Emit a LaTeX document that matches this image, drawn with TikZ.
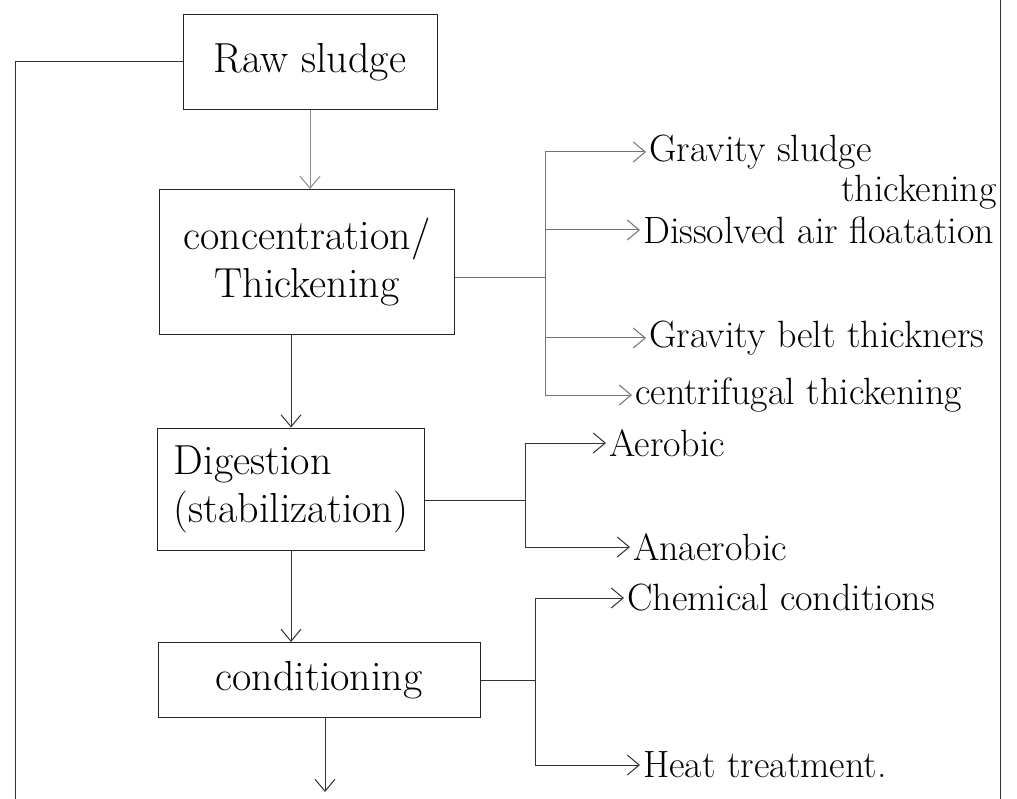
\documentclass[tikz,border=0pt]{standalone}
\usepackage{fontspec}
\usepackage{tikz}
\usetikzlibrary{arrows.meta, positioning}

\begin{document}
\begin{tikzpicture}[x=1pt, y=-1pt,
    box/.style={draw, line width=1pt, black!85, text=black, inner sep=6pt, font=\fontsize{42}{48}\selectfont},
    lbl/.style={anchor=west, inner sep=3pt, text=black, font=\fontsize{38}{44}\selectfont},
    wire/.style={line width=1pt, black!80},
    flow/.style={wire, -{Straight Barb[length=12pt, width=20pt]}}]
    \useasboundingbox (0,0) rectangle (1017,799);

    % Main boxes
    \node[box, minimum width=254, minimum height=95] (raw) at (310,62) {Raw sludge};
    \node[box, minimum width=295, minimum height=145, align=center] (conc) at (307,262) {concentration/\\Thickening};
    \node[box, minimum width=267, minimum height=122, align=left] (dig) at (291,489) {Digestion\\(stabilization)};
    \node[box, minimum width=322, minimum height=75] (cond) at (319,680) {conditioning};

    \draw[flow, black!45] (raw.south) -- (raw.south |- conc.north);
    \draw[flow] (conc.south -| dig) -- (dig.north);
    \draw[flow] (dig.south) -- (dig.south |- cond.north);
    \coordinate (out) at (325,792);
    \draw[flow] (cond.south -| out) -- (out);

    % Side lines
    \coordinate (loop) at (15,799);
    \draw[wire] (raw.west) -| (loop);
    \coordinate (rtop) at (1000,0);
    \coordinate (rbot) at (1000,799);
    \draw[wire] (rtop) -- (rbot);

    % Thickening methods
    \node[lbl] (grav) at (646,152) {Gravity sludge};
    \node[lbl, anchor=east] (gravb) at (1000,192) {thickening};
    \node[lbl] (daf) at (640,230) {Dissolved air floatation};
    \node[lbl] (belt) at (646,338) {Gravity belt thickners};
    \node[lbl] (cent) at (632,395) {centrifugal thickening};
    \coordinate (cb) at (545,278);
    \draw[wire, black!55] (conc.east |- cb) -- (cb);
    \foreach \m in {grav, daf, belt, cent}
        \draw[flow, black!55] (cb) |- (\m.west);

    % Digestion types
    \node[lbl] (aer) at (606,443) {Aerobic};
    \node[lbl] (anaer) at (630,547) {Anaerobic};
    \coordinate (db) at (525,500);
    \draw[wire] (dig.east |- db) -- (db);
    \foreach \m in {aer, anaer}
        \draw[flow] (db) |- (\m.west);

    % Conditioning types
    \node[lbl] (chem) at (624,598) {Chemical conditions};
    \node[lbl] (heat) at (640,765) {Heat treatment.};
    \coordinate (kb) at (535,680);
    \draw[wire] (cond.east |- kb) -- (kb);
    \foreach \m in {chem, heat}
        \draw[flow] (kb) |- (\m.west);
\end{tikzpicture}
\end{document}
